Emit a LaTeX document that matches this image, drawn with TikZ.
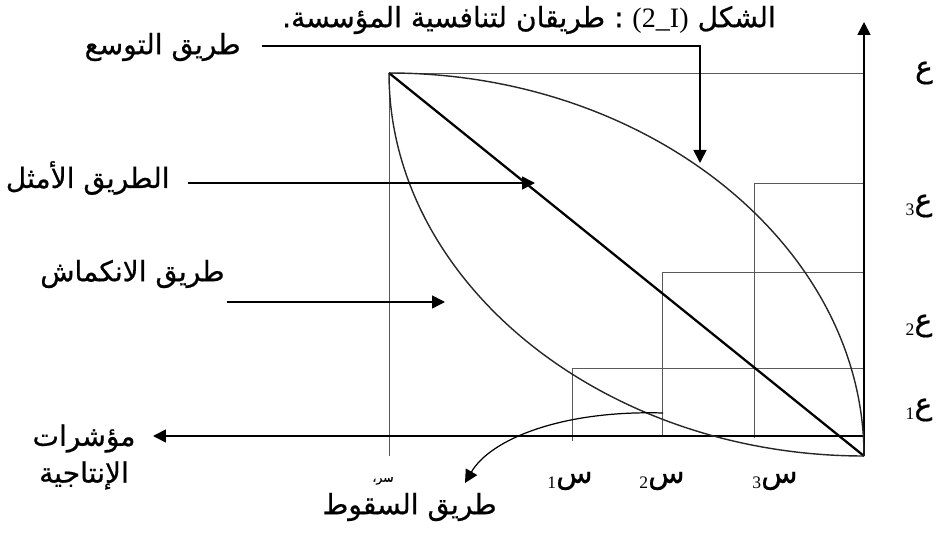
\documentclass[tikz,border=0pt]{standalone}
\usepackage{fontspec}
\setmainfont{Liberation Serif}
\newfontfamily\arabicfont[Script=Arabic, FakeBold=0.6]{DejaVu Sans}
\TeXXeTstate=1
\usetikzlibrary{arrows.meta}
\newcommand{\artxt}[1]{{\arabicfont\beginR #1\endR}}
\newcommand{\sublbl}[2]{\raisebox{-0.4ex}{\fontsize{10}{11}\selectfont #2}\artxt{#1}}

\begin{document}
\begin{tikzpicture}[
  x=0.02cm, y=-0.02cm,
  lbl/.style={font=\fontsize{16}{19}\selectfont, inner sep=0pt},
  axlbl/.style={font=\fontsize{17}{19}\selectfont, inner sep=0pt},
  grid/.style={draw=black!65, line width=0.5pt},
  curve/.style={draw=black!85, line width=0.8pt},
  arrow/.style={-{Triangle[length=2.6mm, width=2.6mm]}, line width=0.9pt}
]
\useasboundingbox (0,0) rectangle (937,533);

\coordinate (P) at (389,73);
\coordinate (Q) at (864,456);
\coordinate (O) at (864,436);
\coordinate (ytop) at (864,22);
\coordinate (xend) at (153,436);

% grid
\draw[grid] (P) -- (P -| Q);
\draw[grid] (P) -- (389,456);
\foreach \x/\y/\b in {572/368/441, 662/272/436, 754/183/438}
  \draw[grid] (\x,\b) -- (\x,\y) -- (864,\y);

% axes
\draw[arrow] (O) -- (xend);
\draw[arrow] (Q) -- (ytop);

% paths
\draw[line width=1.3pt] (P) -- (Q);
\draw[curve] (P) .. controls (649,73) and (864,246) .. (Q);
\draw[curve] (P) .. controls (389,283) and (604,456) .. (Q);

% labels
\node[lbl] (title) at (529,20) {\artxt{الشكل \beginL{\rmfamily (2\_I)}\endL{} : طريقان لتنافسية المؤسسة.}};
\node[lbl, anchor=east] (exp) at (241,47) {\artxt{طريق التوسع}};
\node[lbl, anchor=east] (opt) at (170,178) {\artxt{الطريق الأمثل}};
\node[lbl, anchor=east] (con) at (225,274) {\artxt{طريق الانكماش}};
\node[lbl, align=center] (prod) at (84,457) {\artxt{مؤشرات}\\[2pt]\artxt{الإنتاجية}};
\node[lbl, anchor=east] (fall) at (497,507) {\artxt{طريق السقوط}};

\node[font=\fontsize{7}{8}\selectfont, inner sep=0pt] (s0) at (383,481) {\artxt{سر،}};
\node[axlbl] (s1) at (570,481) {\sublbl{س}{1}};
\node[axlbl] (s2) at (662,481) {\sublbl{س}{2}};
\node[axlbl] (s3) at (775,481) {\sublbl{س}{3}};

\node[axlbl] (e) at (924,73) {\artxt{ع}};
\node[axlbl] (e3) at (919,206) {\sublbl{ع}{3}};
\node[axlbl] (e2) at (919,326) {\sublbl{ع}{2}};
\node[axlbl] (e1) at (919,410) {\sublbl{ع}{1}};

% pointers
\coordinate (expA) at (262,46);
\coordinate (expB) at (700,163);
\coordinate (optA) at (188,183);
\coordinate (optB) at (535,183);
\coordinate (conA) at (227,302);
\coordinate (conB) at (445,302);
\coordinate (fallA) at (663,413);
\coordinate (fallB) at (465,483);

\draw[arrow] (expA) -| (expB);
\draw[arrow] (optA) -- (optB);
\draw[arrow] (conA) -- (conB);
\draw[arrow, line width=0.7pt] (fallA) .. controls (560,410) and (490,440) .. (fallB);
\end{tikzpicture}
\end{document}
